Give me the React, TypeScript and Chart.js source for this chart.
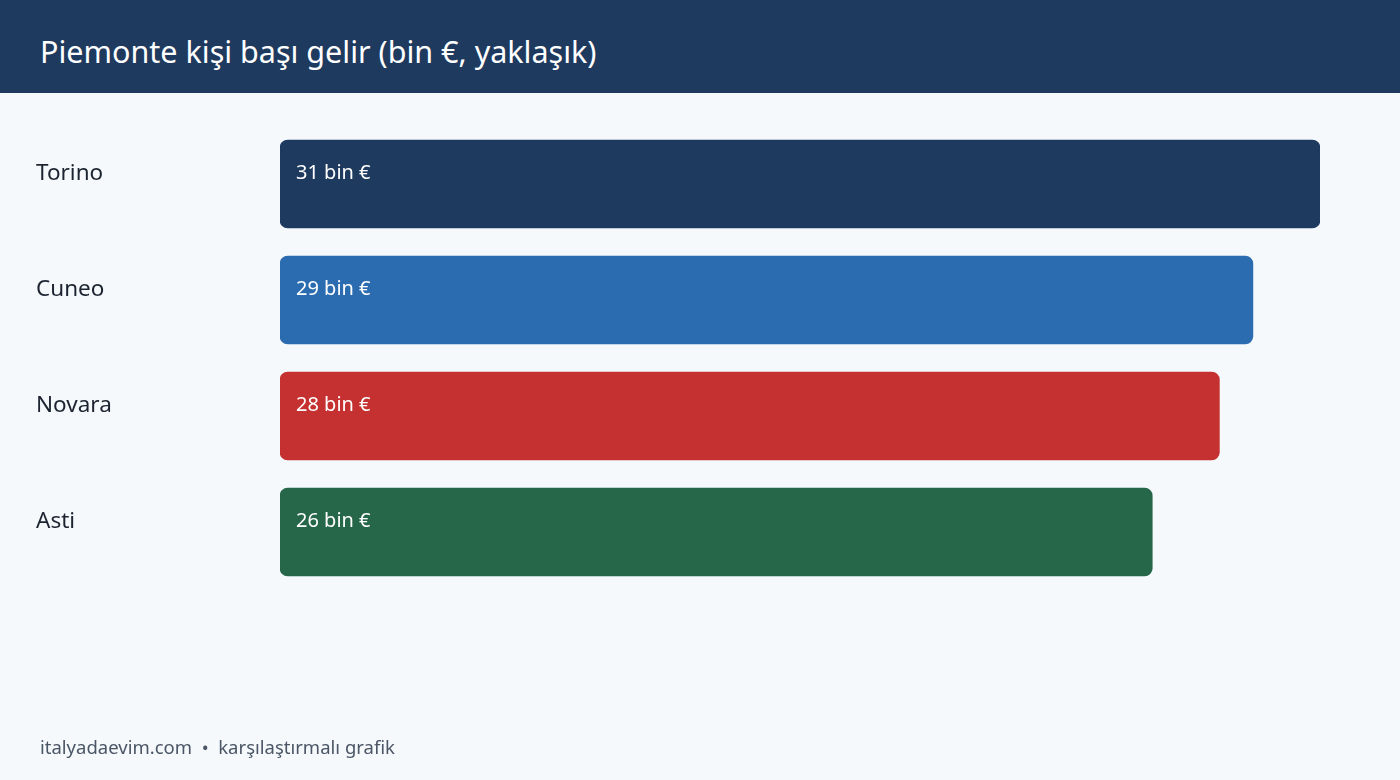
import React, { useEffect, useRef } from 'react';
import { Chart, registerables, ChartConfiguration, Plugin } from 'chart.js';

Chart.register(...registerables);

const cities = ['Torino', 'Cuneo', 'Novara', 'Asti'];
const incomes = [31, 29, 28, 26];
const barColors = ['#1f3a5f', '#2b6cb0', '#c53030', '#276749'];
const unitLabel = 'bin €';

const FONT = '"Noto Sans", "Open Sans", sans-serif';

// draws the city names on the left and the value text inside each bar
const labelPlugin: Plugin<'bar'> = {
  id: 'barLabels',
  afterDatasetsDraw(chart) {
    const ctx = chart.ctx;
    const meta = chart.getDatasetMeta(0);
    ctx.save();
    ctx.textBaseline = 'middle';
    meta.data.forEach((bar: any, i: number) => {
      const top = bar.y - bar.height / 2;
      ctx.font = `22.5px ${FONT}`;
      ctx.fillStyle = '#1c2430';
      ctx.textAlign = 'left';
      ctx.fillText(cities[i], 36, top + 34);

      ctx.font = `20px ${FONT}`;
      ctx.fillStyle = '#ffffff';
      ctx.fillText(`${incomes[i]} ${unitLabel}`, bar.base + 16, top + 33);
    });
    ctx.restore();
  },
};

const IncomeChart: React.FC = () => {
  const chartRef = useRef<HTMLCanvasElement>(null);
  const chartInstance = useRef<Chart | null>(null);

  useEffect(() => {
    if (!chartRef.current) return;
    if (chartInstance.current) chartInstance.current.destroy();

    const config: ChartConfiguration<'bar'> = {
      type: 'bar',
      data: {
        labels: cities,
        datasets: [
          {
            data: incomes,
            backgroundColor: barColors,
            borderRadius: 8,
            borderSkipped: false,
            barThickness: 88,
          },
        ],
      },
      options: {
        indexAxis: 'y',
        animation: false,
        responsive: false,
        maintainAspectRatio: false,
        layout: { padding: { left: 280, right: 80, top: 33, bottom: 190 } },
        plugins: {
          legend: { display: false },
          tooltip: { enabled: false },
          title: { display: false },
        },
        scales: {
          x: { display: false, min: 0, max: 31 },
          y: { display: false },
        },
      },
      plugins: [labelPlugin],
    };

    chartInstance.current = new Chart(chartRef.current, config);

    return () => {
      if (chartInstance.current) {
        chartInstance.current.destroy();
        chartInstance.current = null;
      }
    };
  }, []);

  return <canvas ref={chartRef} width={1400} height={687} style={{ display: 'block' }} />;
};

const App: React.FC = () => {
  useEffect(() => {
    document.body.style.margin = '0';
  }, []);

  return (
    <div
      style={{
        position: 'fixed',
        left: 0,
        top: 0,
        width: 1400,
        height: 780,
        background: '#f5f9fc',
        fontFamily: FONT,
        overflow: 'hidden',
      }}
    >
      <div
        style={{
          height: 93,
          background: '#1f3a5f',
          color: '#ffffff',
          fontSize: 30.5,
          lineHeight: '84px',
          paddingTop: 9,
          paddingLeft: 40,
          boxSizing: 'border-box',
        }}
      >
        Piemonte kişi başı gelir (bin €, yaklaşık)
      </div>
      <IncomeChart />
      <div
        style={{
          position: 'absolute',
          left: 40,
          top: 735,
          fontSize: 18.5,
          lineHeight: '24px',
          color: '#4a5565',
        }}
      >
        italyadaevim.com&nbsp;&nbsp;•&nbsp;&nbsp;karşılaştırmalı grafik
      </div>
    </div>
  );
};

export default App;
